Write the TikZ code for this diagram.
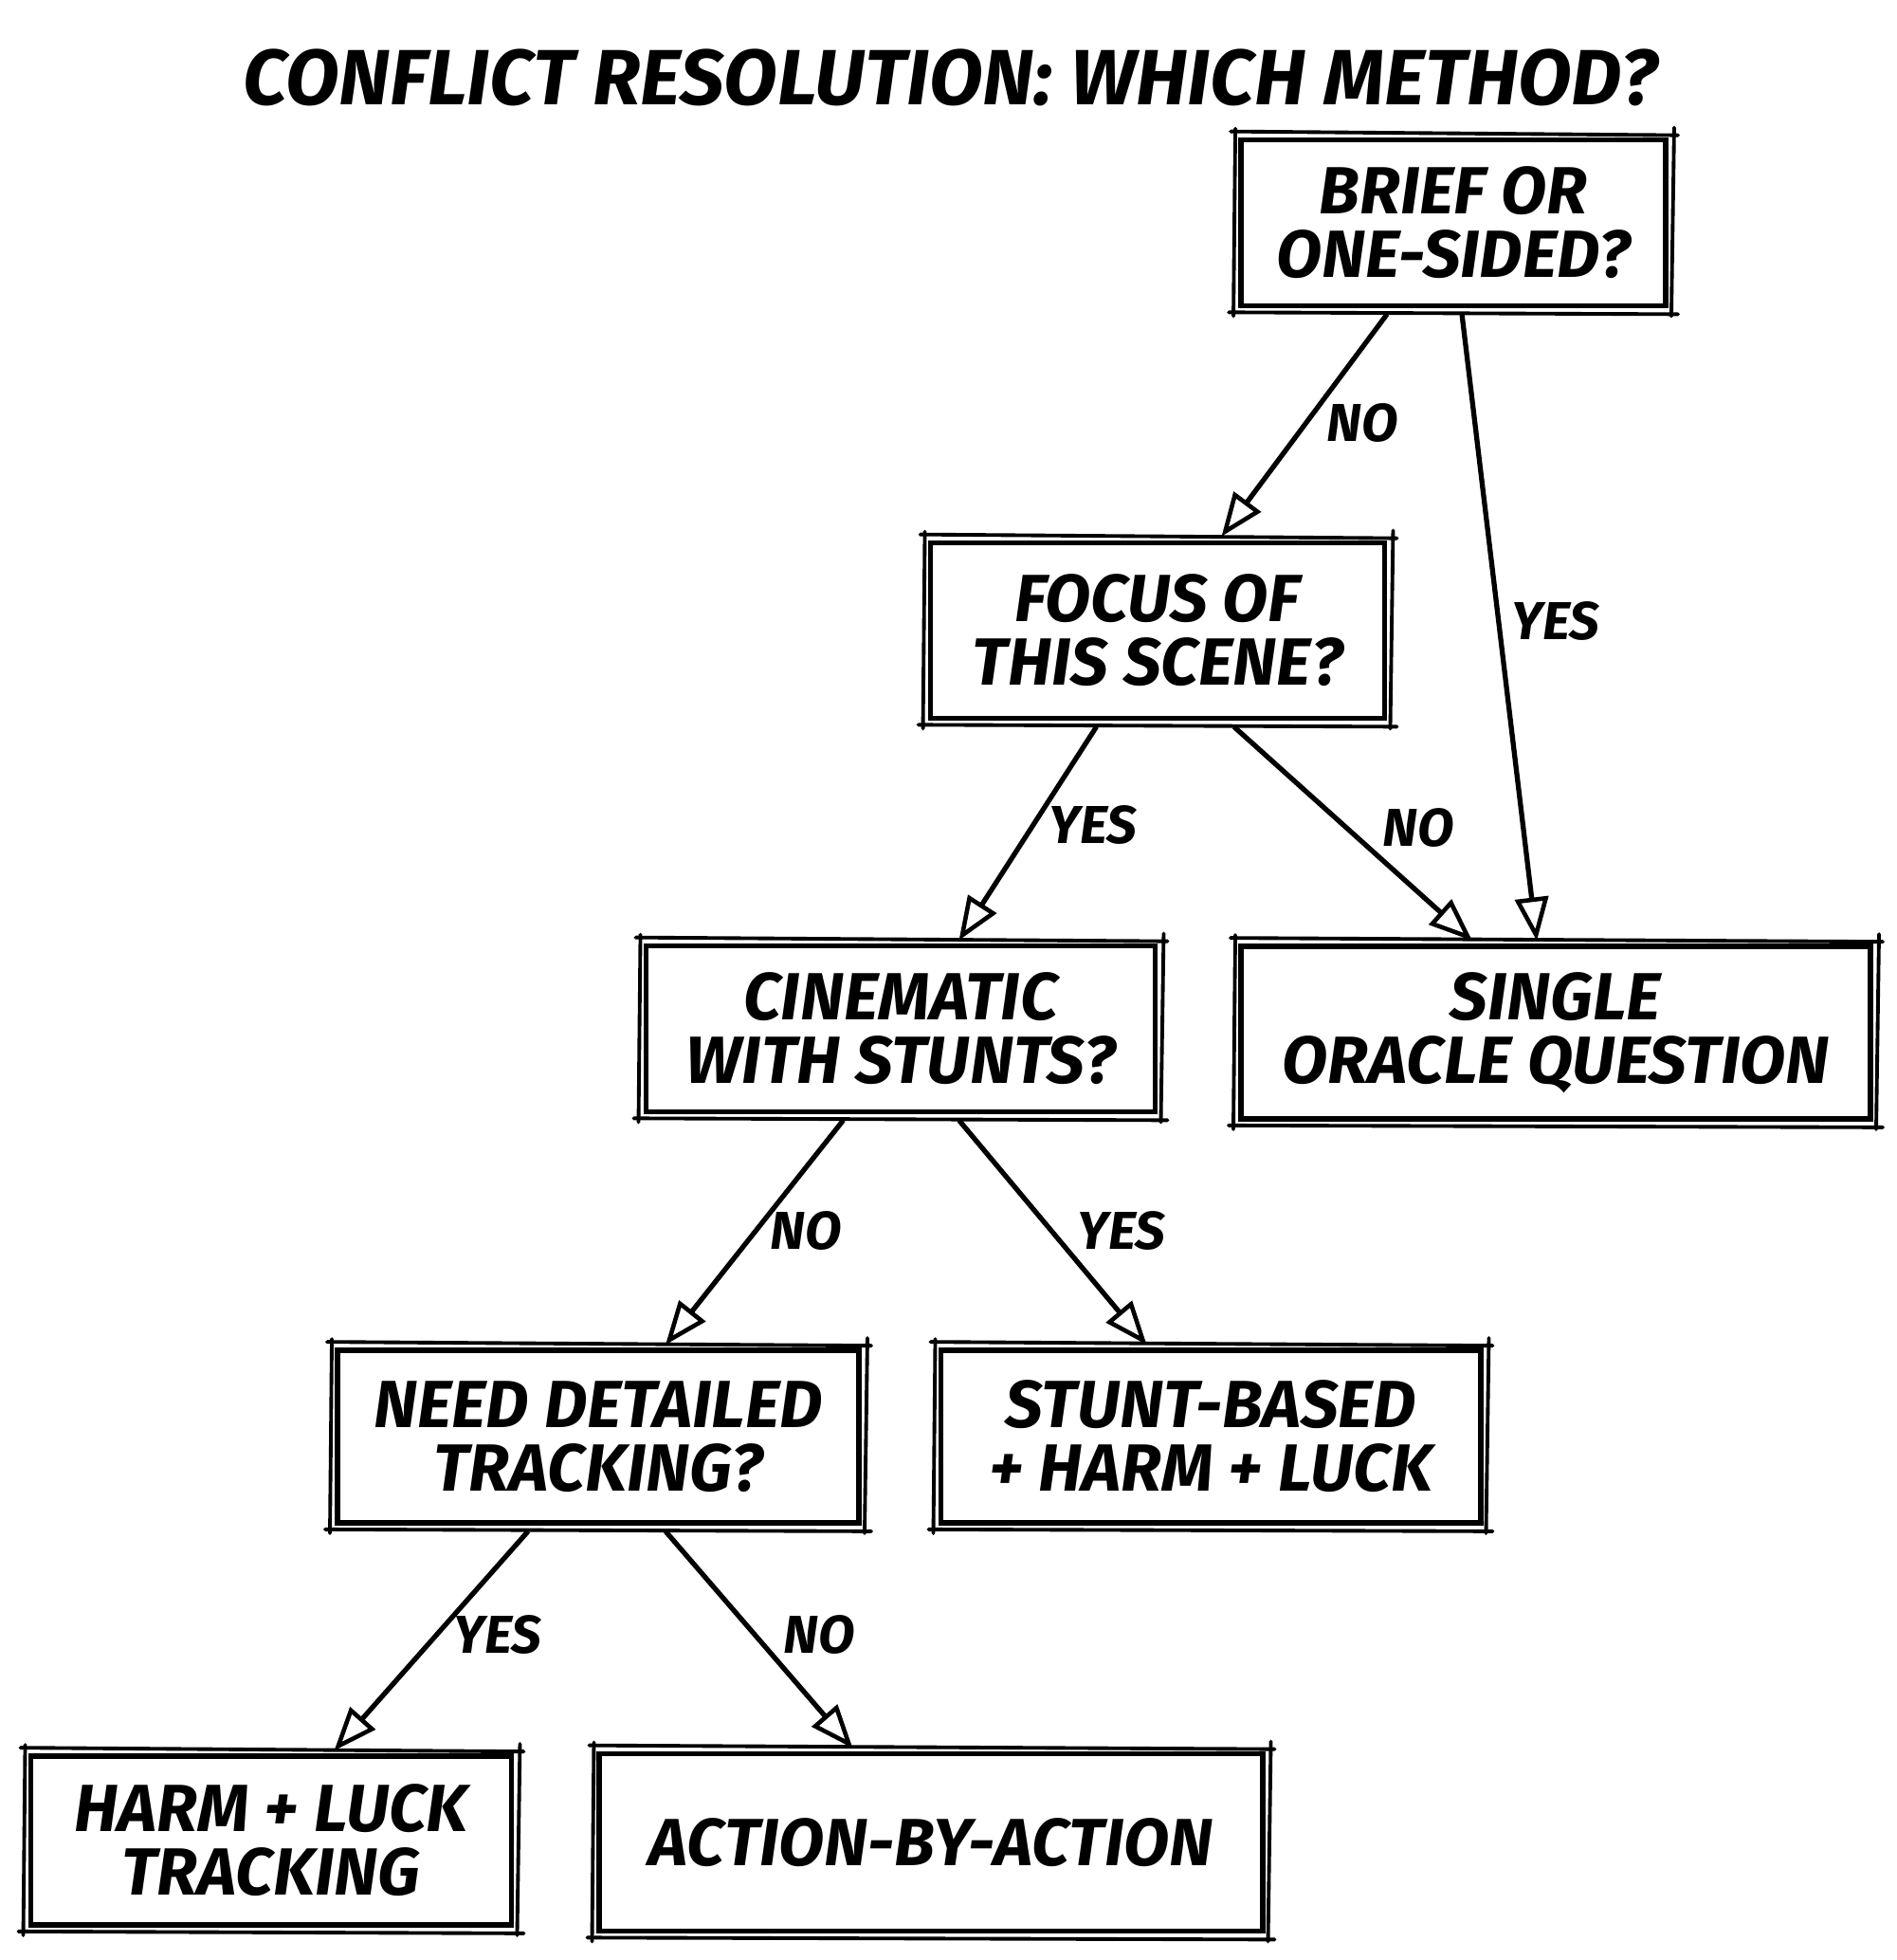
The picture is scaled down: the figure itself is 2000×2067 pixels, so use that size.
\documentclass[tikz,border=0pt]{standalone}
\usepackage{fontspec}
\setmainfont{Fira Sans}
\usetikzlibrary{arrows.meta,calc}
\tikzset{
  x=0.01cm, y=-0.01cm,
  box/.style={draw, line width=1.6pt, inner sep=0pt, align=center,
    font=\bfseries\itshape\fontsize{20}{19}\selectfont},
  sk/.style={line width=1.1pt, line cap=round},
  lbl/.style={font=\bfseries\itshape\fontsize{16}{16}\selectfont, inner sep=0pt},
  ttl/.style={font=\bfseries\itshape\fontsize{23.5}{24}\selectfont, inner sep=0pt},
  arr/.style={line width=1.5pt, -{Triangle[open,length=13pt,width=10pt,line width=1.3pt]}},
}
\newcommand\skbox[1]{%
  \draw[sk] ([shift={(-8,-6)}]#1.north west) -- ([shift={(10,-2)}]#1.north east);
  \draw[sk] ([shift={(6,-10)}]#1.north east) -- ([shift={(3,8)}]#1.south east);
  \draw[sk] ([shift={(10,6)}]#1.south east) -- ([shift={(-10,4)}]#1.south west);
  \draw[sk] ([shift={(-5,8)}]#1.south west) -- ([shift={(-3,-9)}]#1.north west);
}
\begin{document}
\begin{tikzpicture}
\useasboundingbox (0,0) rectangle (2000,2067);
\node[ttl] (title) at (1002,82) {CONFLICT RESOLUTION: WHICH METHOD?};

\node[box, minimum width=4.48cm, minimum height=1.75cm] (b1) at (1533,235) {BRIEF OR\\ONE-SIDED?};
\node[box, minimum width=4.79cm, minimum height=1.85cm] (b2) at (1221,665) {FOCUS OF\\THIS SCENE?};
\node[box, minimum width=5.37cm, minimum height=1.75cm] (b3) at (950,1085) {CINEMATIC\\WITH STUNTS?};
\node[box, minimum width=6.64cm, minimum height=1.82cm] (b4) at (1641,1089) {SINGLE\\ORACLE QUESTION};
\node[box, minimum width=5.50cm, minimum height=1.82cm] (b5) at (631,1515) {NEED DETAILED\\TRACKING?};
\node[box, minimum width=5.69cm, minimum height=1.82cm] (b6) at (1277,1515) {STUNT-BASED\\+ HARM + LUCK};
\node[box, minimum width=5.07cm, minimum height=1.78cm] (b7) at (286,1941) {HARM + LUCK\\TRACKING};
\node[box, minimum width=6.99cm, minimum height=1.87cm] (b8) at (982,1943) {ACTION-BY-ACTION};

\foreach \b in {b1,b2,b3,b4,b5,b6,b7,b8} {\skbox{\b}}

\draw[arr] ($(b1.south west)+(157,6)$) -- ($(b2.north west)+(310,-4)$);
\draw[arr] ($(b1.south west)+(236,6)$) -- ($(b4.north west)+(315,-3)$);
\draw[arr] ($(b2.south west)+(178,6)$) -- ($(b3.north west)+(333,-3)$);
\draw[arr] ($(b2.south west)+(323,6)$) -- ($(b4.north west)+(247,-3)$);
\draw[arr] ($(b3.south west)+(211,6)$) -- ($(b5.north west)+(349,-3)$);
\draw[arr] ($(b3.south west)+(333,6)$) -- ($(b6.north west)+(220,-3)$);
\draw[arr] ($(b5.south west)+(204,6)$) -- ($(b7.north west)+(323,-3)$);
\draw[arr] ($(b5.south west)+(349,6)$) -- ($(b8.north west)+(270,-3)$);

\node[lbl] (l1) at (1437,446) {NO};
\node[lbl] (l2) at (1641,655) {YES};
\node[lbl] (l3) at (1153,870) {YES};
\node[lbl] (l4) at (1496,873) {NO};
\node[lbl] (l5) at (850,1298) {NO};
\node[lbl] (l6) at (1183,1298) {YES};
\node[lbl] (l7) at (525,1724) {YES};
\node[lbl] (l8) at (864,1724) {NO};
\end{tikzpicture}
\end{document}
